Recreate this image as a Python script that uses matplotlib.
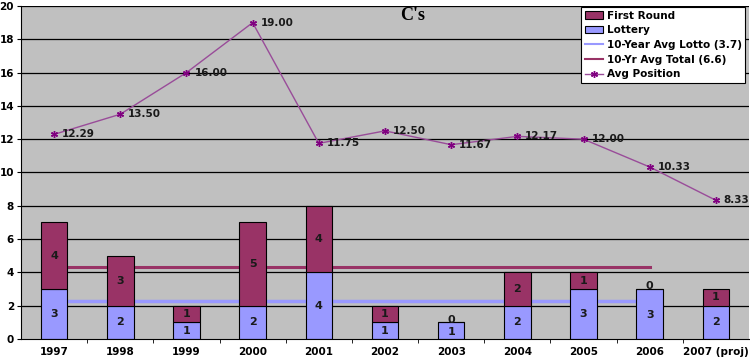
import matplotlib
matplotlib.use("Agg")
import matplotlib.pyplot as plt
import numpy as np
from matplotlib.lines import Line2D
from matplotlib.patches import Patch

categories = ["1997", "1998", "1999", "2000", "2001", "2002", "2003", "2004", "2005", "2006", "2007 (proj)"]
lottery = [3, 2, 1, 2, 4, 1, 1, 2, 3, 3, 2]
first_round = [4, 3, 1, 5, 4, 1, 0, 2, 1, 0, 1]
avg_position = [12.29, 13.50, 16.00, 19.00, 11.75, 12.50, 11.67, 12.17, 12.00, 10.33, 8.33]
avg_lotto_line = [2.3] * 10
avg_total_line = [4.3] * 10
y_ticks = list(range(0, 21, 2))

plt.rcParams['font.family'] = ['DejaVu Sans']
plt.rcParams['font.weight'] = 'bold'

fig = plt.figure(figsize=(7.5, 3.59), dpi=100)
ax = fig.add_axes([21/750, 20/359, 728/750, 333/359])
ax.set_facecolor("#C0C0C0")

x = np.arange(len(categories))
c_first = "#993366"
c_lotto = "#9999FF"
c_lotto_line = "#9999FF"

for yv in y_ticks[1:]:
    ax.axhline(yv, color="black", lw=0.9, zorder=0.5)

ax.plot(x[:10], avg_lotto_line, color=c_lotto_line, lw=2.5, zorder=1)
ax.plot(x[:10], avg_total_line, color="#993366", lw=2.2, zorder=1)

w = 0.4
ax.bar(x, lottery, w, color=c_lotto, edgecolor="black", lw=0.8, zorder=2)
ax.bar(x, first_round, w, bottom=lottery, color=c_first, edgecolor="black", lw=0.8, zorder=2)

for i in range(len(x)):
    ax.annotate(str(lottery[i]), (x[i], lottery[i] / 2), ha="center", va="center",
                xytext=(0, -1 if first_round[i] == 0 else 0), textcoords="offset points",
                fontsize=8, fontweight="bold", color="#1a1a1a", zorder=5)
    ax.annotate(str(first_round[i]), (x[i], lottery[i] + first_round[i] / 2), ha="center", va="center",
                xytext=(0, 2 if first_round[i] == 0 else 0), textcoords="offset points",
                fontsize=8, fontweight="bold", color="#1a1a1a", zorder=5)

ax.plot(x, avg_position, color="#994C99", lw=1, marker=(6, 2, 0), ms=5,
        mec="#800080", mew=1, zorder=4)
for i in range(len(x)):
    ax.text(x[i] + 0.12, avg_position[i], f"{avg_position[i]:.2f}", ha="left", va="center",
            fontsize=7.5, fontweight="bold", color="#1a1a1a", zorder=5)

ax.set_xlim(-0.5, len(x) - 0.5)
ax.set_ylim(0, 20)
ax.set_yticks(y_ticks)
ax.set_yticklabels([str(v) for v in y_ticks], fontsize=7.5, fontweight="bold")
ax.set_xticks(x)
ax.set_xticklabels(categories, fontsize=7.5, fontweight="bold")
ax.tick_params(axis="x", length=0, pad=6)
ax.set_xticks(np.arange(0.5, len(x) - 0.5, 1), minor=True)
ax.tick_params(axis="x", which="minor", length=3, direction="out", color="black")
ax.tick_params(axis="y", length=3, direction="out", pad=2)
for s in ["top", "right"]:
    ax.spines[s].set_visible(False)
ax.spines["left"].set_color("black")
ax.spines["bottom"].set_color("black")

fig.text(413/750, 1 - 15/359, "C's", ha="center", va="center", fontsize=13,
         fontweight="bold", family="Liberation Serif")

handles = [
    Patch(facecolor=c_first, edgecolor="black", lw=0.8),
    Patch(facecolor=c_lotto, edgecolor="black", lw=0.8),
    Line2D([], [], color=c_lotto_line, lw=1.5),
    Line2D([], [], color="#993366", lw=1.5),
    Line2D([], [], color="#994C99", lw=1, marker=(6, 2, 0), ms=5, mec="#800080"),
]
labels = ["First Round", "Lottery", "10-Year Avg Lotto (3.7)", "10-Yr Avg Total (6.6)", "Avg Position"]
leg = fig.legend(handles, labels, loc="upper left", bbox_to_anchor=(581/750, 1 - 7/359),
                 frameon=True, fancybox=False, framealpha=1, borderaxespad=0,
                 handlelength=1.8, handletextpad=0.3, labelspacing=0.45, borderpad=0.35,
                 prop={"weight": "bold", "size": 7.5})
leg.get_frame().set_edgecolor("black")
leg.get_frame().set_linewidth(0.8)
leg.get_frame().set_facecolor("white")

fig.savefig("out.png", dpi=100)
